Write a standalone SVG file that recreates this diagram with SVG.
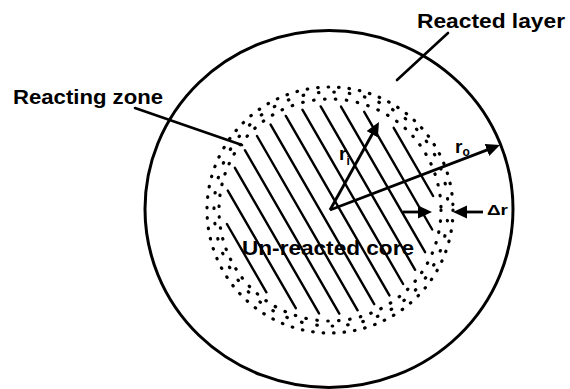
<svg xmlns="http://www.w3.org/2000/svg" width="570" height="389" viewBox="0 0 570 389">
<style>
.txt{font-family:"Liberation Sans",Arial,sans-serif;font-weight:bold;fill:#000}
.ln{stroke:#000;stroke-width:2.6;fill:none;stroke-linecap:round}
.hatch{stroke:#000;stroke-width:2.4;stroke-linecap:round}
.dots{fill:none;stroke:#000;stroke-width:3.2;stroke-linecap:round}
.arr{stroke:#000;stroke-width:2.8;fill:none;marker-end:url(#ah)}
</style>
<defs>
<marker id="ah" markerUnits="userSpaceOnUse" markerWidth="16" markerHeight="14" refX="6" refY="6.5" orient="auto">
<path d="M0,0 L14,6.5 L0,13 z" fill="#000"/>
</marker>
</defs>
<rect width="570" height="389" fill="#fff"/>
<g id="reacted-layer">
<ellipse cx="329" cy="209" rx="184" ry="178.5" fill="none" stroke="#000" stroke-width="3"/>
</g>
<g id="reacting-zone">
<circle class="dots" cx="330" cy="210" r="111" stroke-dasharray="0.5 10.5"/>
<circle class="dots" cx="331" cy="209" r="117" stroke-dasharray="0.5 15" stroke-dashoffset="4"/>
<circle class="dots" cx="330" cy="210" r="123" stroke-dasharray="0.5 10"/>
</g>
<g id="unreacted-core">
<line class="hatch" x1="226.9" y1="224.0" x2="266.4" y2="292.3"/>
<line class="hatch" x1="227.8" y1="190.6" x2="295.8" y2="308.2"/>
<line class="hatch" x1="234.9" y1="167.8" x2="319.0" y2="313.4"/>
<line class="hatch" x1="244.9" y1="150.2" x2="339.3" y2="313.6"/>
<line class="hatch" x1="257.0" y1="136.0" x2="357.6" y2="310.3"/>
<line class="hatch" x1="270.6" y1="124.6" x2="374.2" y2="304.1"/>
<line class="hatch" x1="285.8" y1="115.9" x2="389.4" y2="295.4"/>
<line class="hatch" x1="302.4" y1="109.7" x2="403.1" y2="284.0"/>
<line class="hatch" x1="320.7" y1="106.4" x2="415.1" y2="269.8"/>
<line class="hatch" x1="341.0" y1="106.6" x2="425.1" y2="252.2"/>
<line class="hatch" x1="364.2" y1="111.8" x2="432.2" y2="229.5"/>
<line class="hatch" x1="393.7" y1="127.8" x2="433.1" y2="196.0"/>
<text class="txt" x="242" y="255" font-size="20" textLength="172" lengthAdjust="spacingAndGlyphs">Un-reacted core</text>
</g>
<g id="connectors">
<line class="ln" x1="135" y1="108" x2="242" y2="145"/>
<line class="ln" x1="448" y1="33" x2="397" y2="80"/>
<line class="arr" x1="330" y1="210" x2="375.1" y2="129.0"/>
<line class="arr" x1="330" y1="210" x2="492.5" y2="147.9"/>
<line class="arr" x1="403" y1="212" x2="424" y2="212"/>
<line class="arr" x1="483" y1="212" x2="461" y2="212"/>
</g>
<g id="labels">
<text class="txt" x="13" y="104" font-size="20" textLength="150" lengthAdjust="spacingAndGlyphs">Reacting zone</text>
<text class="txt" x="417" y="28" font-size="20" textLength="148" lengthAdjust="spacingAndGlyphs">Reacted layer</text>
<text class="txt" x="339" y="160" font-size="19">r<tspan font-size="12" dy="5">i</tspan></text>
<text class="txt" x="455" y="153" font-size="19">r<tspan font-size="12" dy="3">o</tspan></text>
<text class="txt" x="487" y="215" font-size="15" textLength="21" lengthAdjust="spacingAndGlyphs">Δr</text>
</g>
</svg>
